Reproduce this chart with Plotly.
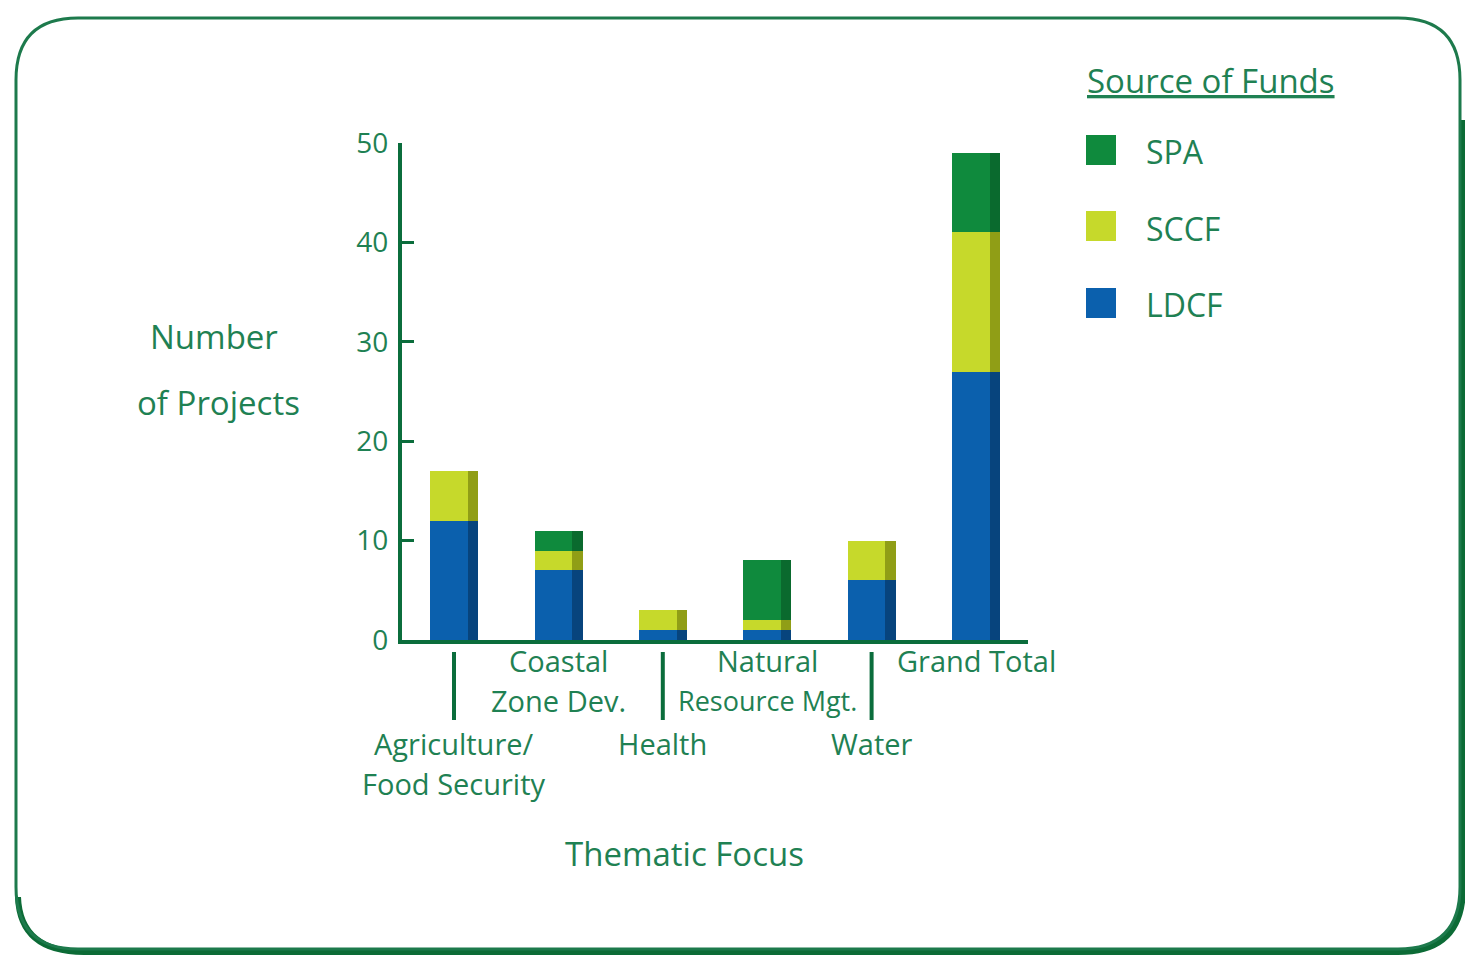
import plotly.graph_objects as go

# ---------------- data ----------------
categories = ["Agriculture/<br>Food Security", "Coastal<br>Zone Dev.", "Health",
              "Natural<br>Resource Mgt.", "Water", "Grand Total"]
ldcf = [12, 7, 1, 1, 6, 27]
sccf = [5, 2, 2, 1, 4, 14]
spa = [0, 2, 0, 6, 0, 8]
series_names = ["LDCF", "SCCF", "SPA"]
y_ticks = [0, 10, 20, 30, 40, 50]

# ---------------- style ----------------
W, H = 1465, 957
FONT = "Open Sans"
TXT = "#1f8153"
AXIS = "#0b6d3c"
main_col = {"LDCF": "#0b60ad", "SCCF": "#c6d92b", "SPA": "#0f8a3d"}
edge_col = {"LDCF": "#07447d", "SCCF": "#909e16", "SPA": "#0a6a2e"}
BAR_W = 0.46
EDGE_W = 0.1

def px(x):
    return x / W

def py(y):
    return 1 - y / H

x_pos = list(range(len(categories)))
values = {"LDCF": ldcf, "SCCF": sccf, "SPA": spa}

fig = go.Figure()
base = [0] * len(categories)
for name in series_names:
    vals = values[name]
    fig.add_trace(go.Bar(x=x_pos, y=vals, base=base, width=BAR_W, offset=-BAR_W / 2,
                         marker=dict(color=main_col[name], line=dict(width=0)),
                         name=name, showlegend=False, hoverinfo="skip"))
    fig.add_trace(go.Bar(x=x_pos, y=vals, base=base, width=EDGE_W, offset=BAR_W / 2 - EDGE_W,
                         marker=dict(color=edge_col[name], line=dict(width=0)),
                         showlegend=False, hoverinfo="skip"))
    base = [b + v for b, v in zip(base, vals)]

# ---------------- annotations ----------------
ann = []
upper_idx = [1, 3, 5]
lower_idx = [0, 2, 4]
for i, lab in enumerate(categories):
    start = 660 if i in upper_idx else 743
    for k, line in enumerate(lab.split("<br>")):
        size = 27 if line.startswith("Resource") else 29
        ann.append(dict(x=i, xref="x", y=py(start + 40 * k), yref="paper", text=line,
                        showarrow=False, xanchor="center", yanchor="middle",
                        font=dict(family=FONT, size=size, color=TXT)))

def txt(x, y, text, size=33, xanchor="center"):
    return dict(x=px(x), y=py(y), xref="paper", yref="paper", text=text, showarrow=False,
                xanchor=xanchor, yanchor="middle", font=dict(family=FONT, size=size, color=TXT))

ann.append(txt(214, 336, "Number"))
ann.append(txt(218, 402, "of Projects"))
ann.append(txt(684, 853, "Thematic Focus"))
ann.append(txt(1085, 80, "<u>Source of Funds</u>", xanchor="left"))

shapes = []
legend_items = [("SPA", 150), ("SCCF", 226), ("LDCF", 303)]
for name, yc in legend_items:
    shapes.append(dict(type="rect", xref="paper", yref="paper",
                       x0=px(1086), x1=px(1116), y0=py(yc - 15), y1=py(yc + 15),
                       fillcolor=main_col[name], line=dict(width=0)))
    ann.append(txt(1144, yc + 2, name, size=32, xanchor="left"))

# connector lines for lower labels
for i in lower_idx:
    shapes.append(dict(type="line", xref="x", yref="paper", x0=i, x1=i,
                       y0=py(652), y1=py(720), line=dict(color=AXIS, width=4)))

# rounded border
x0, y0, x1, y1, r = 16, 18, 1460, 949, 62

def rpath(x0, y0, x1, y1, r):
    pts = [
        ("M", [(x0 + r, y0)]), ("L", [(x1 - r, y0)]), ("Q", [(x1, y0), (x1, y0 + r)]),
        ("L", [(x1, y1 - r)]), ("Q", [(x1, y1), (x1 - r, y1)]), ("L", [(x0 + r, y1)]),
        ("Q", [(x0, y1), (x0, y1 - r)]), ("L", [(x0, y0 + r)]), ("Q", [(x0, y0), (x0 + r, y0)]),
    ]
    s = ""
    for cmd, ps in pts:
        s += cmd + " " + " ".join(f"{px(a):.5f},{py(b):.5f}" for a, b in ps) + " "
    return s + "Z"

shadow = (f"M {px(x0 + 2):.5f},{py(y1 - r + 10):.5f} "
          f"Q {px(x0 + 4):.5f},{py(y1 + 3):.5f} {px(x0 + r + 6):.5f},{py(y1 + 3):.5f} "
          f"L {px(x1 - r):.5f},{py(y1 + 3):.5f} "
          f"Q {px(x1 + 3):.5f},{py(y1 + 3):.5f} {px(x1 + 3):.5f},{py(y1 - r):.5f} "
          f"L {px(x1 + 3):.5f},{py(y0 + r + 40):.5f}")
shapes.append(dict(type="path", xref="paper", yref="paper", path=shadow,
                   line=dict(color="#0c6b36", width=6)))
shapes.append(dict(type="path", xref="paper", yref="paper", path=rpath(x0, y0, x1, y1, r),
                   line=dict(color="#1d7a4c", width=3)))

fig.update_layout(
    template="none",
    width=W, height=H, margin=dict(l=0, r=0, t=0, b=0, pad=0, autoexpand=False),
    paper_bgcolor="white", plot_bgcolor="white",
    barmode="overlay", bargap=0,
    annotations=ann, shapes=shapes, showlegend=False,
    xaxis=dict(domain=[px(401.8), px(1028.2)], range=[-0.5, 5.5], showgrid=False,
               zeroline=False, showline=True, linecolor=AXIS, linewidth=4,
               showticklabels=False, ticks="", automargin=False),
    yaxis=dict(domain=[py(640), py(143)], range=[0, 50], showgrid=False, zeroline=False,
               showline=True, linecolor=AXIS, linewidth=4, tickvals=y_ticks,
               ticks="inside", ticklen=12, tickwidth=3, tickcolor=AXIS, automargin=False,
               tickfont=dict(family=FONT, size=28, color=TXT), ticklabelstandoff=4),
)

fig.write_html("out.html", config={"displayModeBar": False},
               post_script="document.body.style.margin='0';document.body.style.overflow='hidden';")
